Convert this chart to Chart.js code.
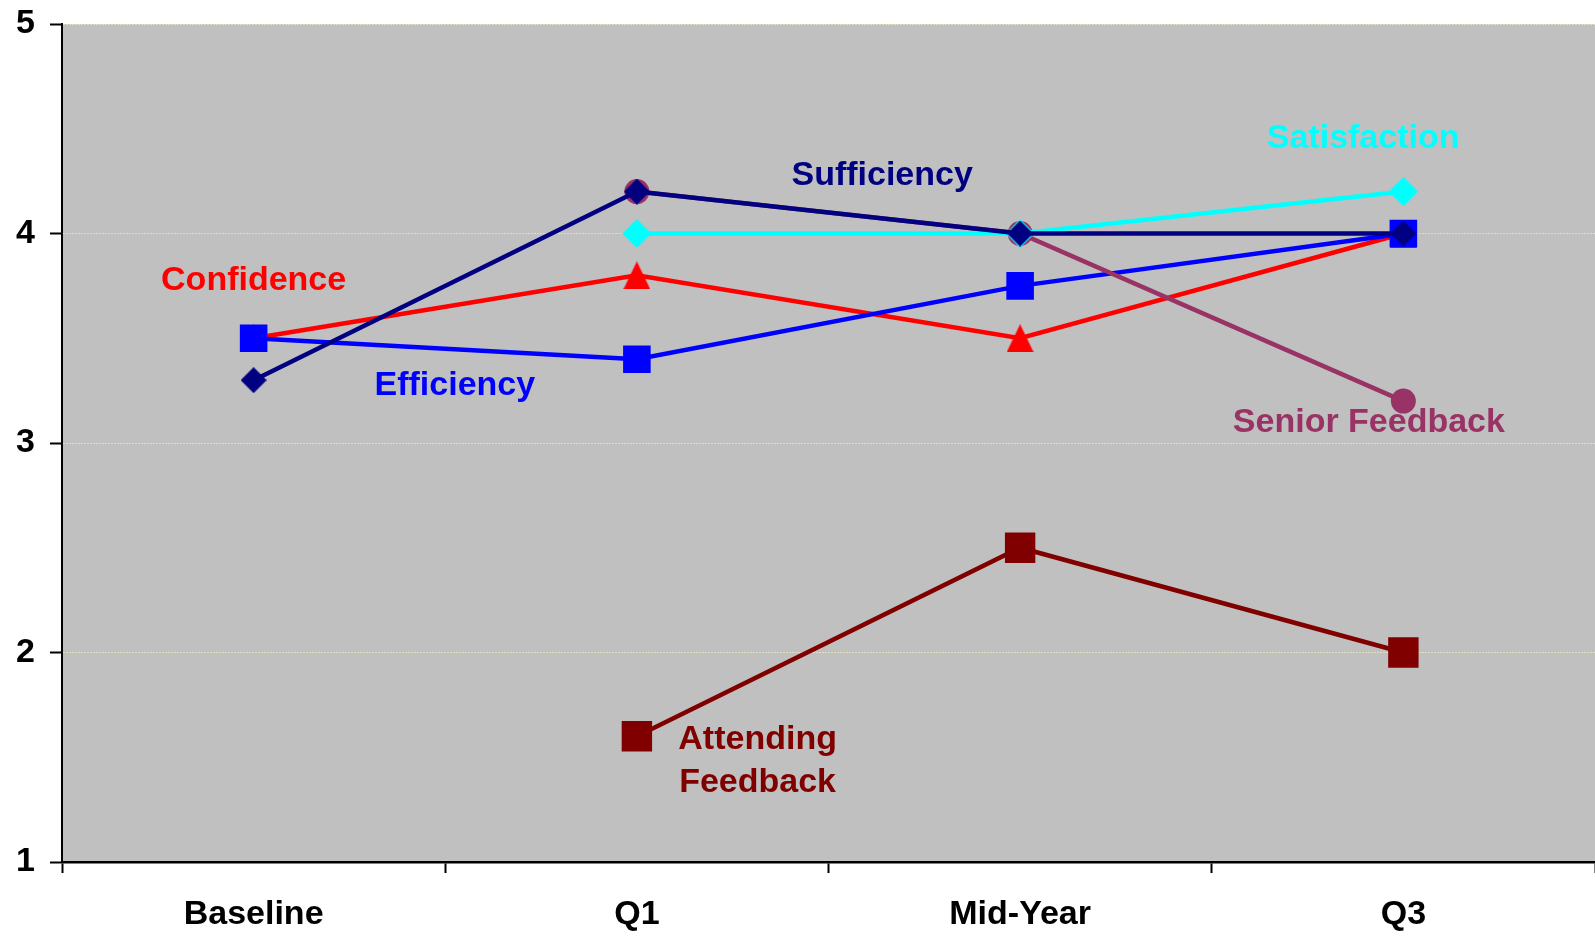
<!DOCTYPE html>
<html>
<head>
<meta charset="utf-8">
<title>Survey scores by quarter</title>
<script src="https://cdn.jsdelivr.net/npm/chart.js@4/dist/chart.umd.min.js"></script>
<style>
  html, body { margin: 0; padding: 0; background: #ffffff; }
  #wrap { width: 1595px; height: 937px; }
</style>
</head>
<body>
<div id="wrap"><canvas id="chart" width="1595" height="937"></canvas></div>
<script>
// Mean scores per survey round (scale 1-5)
const categories = ["Baseline", "Q1", "Mid-Year", "Q3"];
const confidence = [3.5, 3.8, 3.5, 4.0];
const efficiency = [3.5, 3.4, 3.75, 4.0];
const seniorFeedback = [null, 4.2, 4.0, 3.2];
const satisfaction = [null, 4.0, 4.0, 4.2];
const sufficiency = [3.3, 4.2, 4.0, 4.0];
const attendingFeedback = [null, 1.6, 2.5, 2.0];
const yTicks = [1, 2, 3, 4, 5];

const FONT = "'Liberation Sans', Arial, Helvetica, sans-serif";
const PLOT_BG = "#c0c0c0";

// Series names are written next to the lines instead of a legend.
// x is a (fractional) category index, y is a value on the score axis.
const SERIES_LABELS = [
  { text: "Confidence", color: "#ff0000", x: 0.0, y: 3.775 },
  { text: "Efficiency", color: "#0000ff", x: 0.525, y: 3.275 },
  { text: "Sufficiency", color: "#000080", x: 1.64, y: 4.275 },
  { text: "Satisfaction", color: "#00ffff", x: 2.895, y: 4.455 },
  { text: "Senior Feedback", color: "#993366", x: 2.91, y: 3.095 },
  { text: "Attending", color: "#800000", x: 1.315, y: 1.585 },
  { text: "Feedback", color: "#800000", x: 1.315, y: 1.38 },
];

// Marker bitmaps, centred on their bounding box
function makeMarker(w, h, draw) {
  const c = document.createElement("canvas");
  c.width = w;
  c.height = h;
  draw(c.getContext("2d"), w, h);
  return c;
}

function triangle(color, w, h) {
  return makeMarker(w, h, (ctx) => {
    ctx.fillStyle = color;
    ctx.beginPath();
    ctx.moveTo(w / 2, 0);
    ctx.lineTo(w, h);
    ctx.lineTo(0, h);
    ctx.closePath();
    ctx.fill();
  });
}

function diamond(color, size) {
  return makeMarker(size, size, (ctx) => {
    const m = size / 2;
    ctx.fillStyle = color;
    ctx.beginPath();
    ctx.moveTo(m, 0);
    ctx.lineTo(size, m);
    ctx.lineTo(m, size);
    ctx.lineTo(0, m);
    ctx.closePath();
    ctx.fill();
  });
}

function series(label, data, color, style, radius, order) {
  return {
    label: label,
    data: data,
    borderColor: color,
    backgroundColor: color,
    borderWidth: 4.5,
    pointStyle: style,
    pointRadius: radius,
    pointBackgroundColor: color,
    pointBorderWidth: 0,
    tension: 0,
    order: order,
  };
}

// lower order is painted last, i.e. on top
const datasets = [
  series("Attending Feedback", attendingFeedback, "#800000", "rect", 21.5, 6),
  series("Confidence", confidence, "#ff0000", triangle("#ff0000", 27, 28), 14, 5),
  series("Efficiency", efficiency, "#0000ff", "rect", 19.5, 4),
  series("Senior Feedback", seniorFeedback, "#993366", "circle", 12.5, 3),
  series("Satisfaction", satisfaction, "#00ffff", diamond("#00ffff", 29), 14, 2),
  series("Sufficiency", sufficiency, "#000080", diamond("#000080", 26), 13, 1),
];

const plotBackground = {
  id: "plotBackground",
  beforeDraw(chart) {
    const { ctx, chartArea } = chart;
    ctx.save();
    ctx.fillStyle = PLOT_BG;
    ctx.fillRect(chartArea.left, chartArea.top, chartArea.right - chartArea.left, chartArea.bottom - chartArea.top);
    ctx.restore();
  },
};

const seriesLabels = {
  id: "seriesLabels",
  afterDatasetsDraw(chart) {
    const { ctx, scales } = chart;
    ctx.save();
    ctx.font = "bold 34px " + FONT;
    ctx.textAlign = "center";
    ctx.textBaseline = "middle";
    SERIES_LABELS.forEach((l) => {
      ctx.fillStyle = l.color;
      ctx.fillText(l.text, scales.x.getPixelForValue(l.x), scales.y.getPixelForValue(l.y));
    });
    ctx.restore();
  },
};

new Chart(document.getElementById("chart"), {
  type: "line",
  data: { labels: categories, datasets: datasets },
  plugins: [plotBackground, seriesLabels],
  options: {
    responsive: false,
    animation: false,
    events: [],
    // big markers would otherwise push the plot away from the right edge
    layout: { autoPadding: false, padding: { top: 24, right: 0, bottom: 0, left: 0 } },
    plugins: {
      legend: { display: false },
      tooltip: { enabled: false },
    },
    scales: {
      x: {
        offset: true,
        grid: {
          offset: true,
          drawOnChartArea: false,
          drawTicks: true,
          tickLength: 11,
          tickWidth: 2,
          tickColor: "#000000",
        },
        border: { display: true, color: "#000000", width: 2.5 },
        ticks: {
          color: "#000000",
          font: { family: FONT, size: 34, weight: "bold" },
          padding: 21,
          maxRotation: 0,
        },
        afterFit(scale) {
          scale.height = 75;
          scale.paddingLeft = 0;
          scale.paddingRight = 0;
        },
      },
      y: {
        min: 1,
        max: 5,
        afterBuildTicks(scale) {
          scale.ticks = yTicks.map((v) => ({ value: v }));
        },
        grid: {
          color: "#e0e0bc",
          lineWidth: 1,
          drawTicks: true,
          tickLength: 12,
          tickWidth: 2,
          tickColor: "#000000",
          tickBorderDash: [],
        },
        border: { display: true, color: "#000000", width: 2, dash: [2, 1] },
        ticks: {
          color: "#000000",
          font: { family: FONT, size: 34, weight: "bold" },
          padding: 15,
        },
        afterFit(scale) {
          scale.width = 62;
          scale.paddingTop = 0;
          scale.paddingBottom = 0;
        },
      },
    },
  },
});
</script>
</body>
</html>
